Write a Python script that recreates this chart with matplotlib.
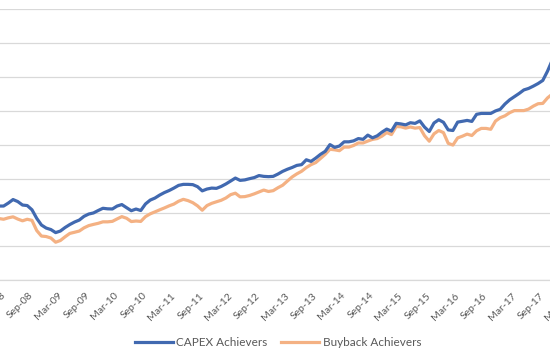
import matplotlib.pyplot as plt
import numpy as np
import pandas as pd

# monthly index levels, Jan-08 .. Dec-17
months = pd.date_range("2008-01-01", "2017-12-01", freq="MS")

capex = [109.6, 109.6, 109.6, 114.0, 119.2, 116.2, 111.1, 110.3, 104.1, 91.5,
         81.6, 77.1, 74.9, 70.4, 72.7, 77.9, 82.3, 86.0, 88.9, 94.4,
         97.8, 99.4, 103.0, 106.3, 105.5, 105.3, 109.6, 111.8, 107.2, 102.7,
         105.2, 103.0, 112.7, 118.4, 121.4, 125.8, 129.5, 132.5, 136.1, 140.1,
         141.6, 141.6, 141.2, 138.2, 132.0, 134.7, 136.1, 135.7, 138.5, 142.2,
         146.5, 150.9, 147.5, 148.2, 150.0, 151.6, 154.6, 153.4, 153.0, 153.4,
         156.8, 160.8, 163.9, 166.5, 169.6, 170.7, 177.9, 175.5, 180.4, 185.9,
         190.4, 200.3, 196.2, 198.2, 204.4, 204.4, 205.8, 209.2, 208.1, 214.3,
         210.3, 213.3, 218.7, 223.2, 220.2, 231.7, 230.8, 229.4, 232.6, 231.6,
         235.3, 226.1, 219.6, 232.2, 237.0, 233.2, 222.0, 221.1, 233.5, 234.7,
         236.0, 234.5, 245.0, 246.3, 246.3, 246.3, 250.0, 252.4, 260.2, 266.4,
         271.1, 275.8, 281.0, 283.2, 286.6, 290.4, 295.0, 308.7, 324.9, 329.4]

buyback = [91.9, 91.2, 90.1, 92.2, 93.7, 90.4, 87.8, 90.1, 88.5, 73.5,
           65.3, 64.6, 62.4, 56.2, 58.7, 64.2, 69.2, 70.9, 72.7, 77.4,
           80.7, 82.5, 84.1, 86.3, 86.3, 87.0, 90.6, 94.0, 91.6, 86.7,
           87.5, 86.9, 94.0, 98.1, 101.0, 104.0, 106.8, 109.9, 112.5, 116.7,
           119.5, 117.6, 114.6, 109.9, 103.4, 110.3, 113.6, 115.9, 118.1, 121.5,
           126.4, 128.6, 123.2, 123.5, 125.2, 127.6, 130.4, 133.2, 131.1, 132.3,
           136.6, 140.3, 146.5, 152.5, 157.1, 160.9, 166.4, 170.7, 173.8, 179.8,
           185.9, 193.4, 192.6, 191.3, 196.6, 196.6, 199.0, 202.7, 202.7, 205.5,
           208.0, 209.2, 212.8, 218.0, 215.1, 226.9, 226.6, 224.6, 226.3, 224.6,
           225.5, 213.4, 205.3, 216.2, 221.1, 218.0, 202.2, 199.6, 210.2, 212.7,
           215.8, 213.7, 220.7, 224.2, 224.2, 222.9, 235.0, 240.0, 242.8, 247.4,
           250.5, 250.5, 250.5, 252.7, 257.1, 260.6, 261.1, 269.2, 274.8, 277.7]

series_names = ["CAPEX Achievers", "Buyback Achievers"]
colors = ["#4169B0", "#F4B183"]

# axis labels every 6 months (Mar / Sep), running on to Mar-18
tick_dates = pd.date_range("2008-03-01", "2018-03-01", freq="6MS")
tick_pos = [(d.year - 2008) * 12 + d.month - 1 for d in tick_dates]
tick_labels = [d.strftime("%b-%y") for d in tick_dates]

W, H = 550, 359
fig = plt.figure(figsize=(W / 100, H / 100), dpi=100)

# the picture is a crop: plot area runs past both figure edges
x0, x1 = -1, 123
left_px, right_px = -10.6, 575.9
bottom_px, top_px = 359 - 280.3, 359 - 9.3
ax = fig.add_axes([left_px / W, bottom_px / H,
                   (right_px - left_px) / W, (top_px - bottom_px) / H])

x = np.arange(len(months))
ax.plot(x, capex, color=colors[0], lw=2.3, label=series_names[0], zorder=3)
ax.plot(x, buyback, color=colors[1], lw=2.3, label=series_names[1], zorder=2)

ax.set_xlim(x0, x1)
ax.set_ylim(0, 400)
ax.set_yticks(np.arange(0, 401, 50))
ax.grid(axis="y", color="#D9D9D9", lw=0.9)
ax.set_axisbelow(True)
for s in ["top", "right", "left"]:
    ax.spines[s].set_visible(False)
ax.spines["bottom"].set_color("#D9D9D9")
ax.spines["bottom"].set_linewidth(0.9)
ax.tick_params(axis="y", length=0, labelleft=False)
ax.tick_params(axis="x", length=0, pad=10)

ax.set_xticks(tick_pos)
ax.set_xticklabels(tick_labels, rotation=45, ha="right", va="center",
                   rotation_mode="anchor", fontsize=7.5, color="#595959",
                   family="Lato")

fig.legend(loc="center", bbox_to_anchor=(278 / W, 16 / H), ncol=2,
           frameon=False, handlelength=3.2, columnspacing=1.2,
           handletextpad=0.3,
           prop={"family": "Lato", "size": 8.5}, labelcolor="#595959")

fig.savefig("out.png", dpi=100)
